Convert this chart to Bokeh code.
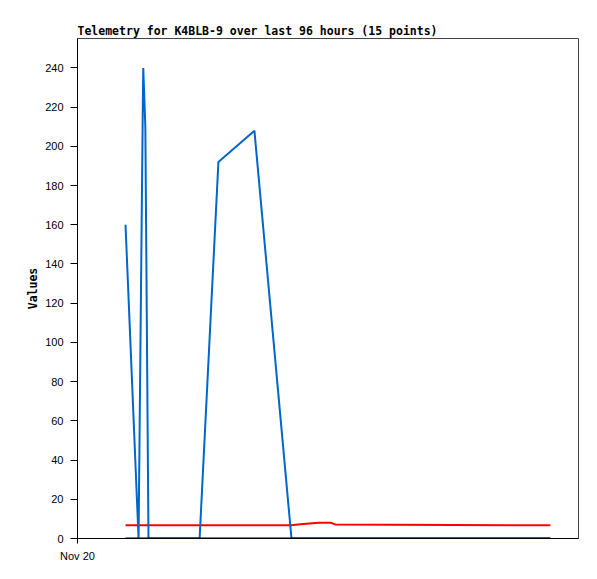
from bokeh.plotting import figure
from bokeh.models import Range1d, FixedTicker
from bokeh.embed import file_html
from bokeh.resources import INLINE

# hours since Nov 20 00:00 (axis spans 96 hours)
hours = [9.2, 11.7, 12.5, 12.6, 13.0, 13.6, 23.4, 27.0, 33.9, 41.0, 42.7, 46.2, 48.5, 49.4, 90.6]
series_blue = [160, 0, 217, 240, 210, 0, 0, 192, 208, 0, 0, 0, 0, 0, 0]
series_red = [6.7, 6.7, 6.7, 6.7, 6.7, 6.7, 6.7, 6.7, 6.7, 6.7, 7.3, 8.0, 8.0, 7.2, 6.7]
series_black = [0] * 15
y_ticks = list(range(0, 241, 20))
x_tick_labels = {0: "Nov 20"}

p = figure(width=589, height=571, output_backend="svg", toolbar_location=None,
           x_range=Range1d(0, 96), y_range=Range1d(0, 255),
           min_border_left=77, min_border_right=11, min_border_top=38, min_border_bottom=33)

p.title.text = "Telemetry for K4BLB-9 over last 96 hours (15 points)"
p.title.text_font = "DejaVu Sans Mono"
p.title.text_font_size = "11.5px"
p.title.text_font_style = "bold"
p.title.text_color = "black"
p.title.align = "left"
p.title.offset = 0
p.title.standoff = 1

p.outline_line_color = "#444444"
p.outline_line_width = 1
p.xgrid.visible = False
p.ygrid.visible = False
p.background_fill_color = "white"
p.border_fill_color = "white"

p.line(hours, series_red, line_color="#ff0000", line_width=2)
p.line(hours, series_blue, line_color="#0066cc", line_width=2)
p.line(hours, series_black, line_color="#000000", line_width=2)

yax = p.yaxis[0]
yax.ticker = FixedTicker(ticks=y_ticks)
yax.minor_tick_line_color = None
yax.major_tick_in = 0
yax.major_tick_out = 7
yax.major_tick_line_color = "black"
yax.major_label_standoff = 7
yax.major_label_text_font = "Liberation Sans"
yax.major_label_text_font_size = "11px"
yax.major_label_text_color = "black"
yax.axis_line_color = "black"
yax.axis_label = "Values"
yax.axis_label_text_font = "DejaVu Sans Mono"
yax.axis_label_text_font_style = "bold"
yax.axis_label_text_font_size = "11.5px"
yax.axis_label_text_color = "black"
yax.axis_label_standoff = 2

xax = p.xaxis[0]
xax.ticker = FixedTicker(ticks=[0])
xax.major_label_overrides = x_tick_labels
xax.minor_tick_line_color = None
xax.major_tick_in = 0
xax.major_tick_out = 5
xax.major_tick_line_color = "black"
xax.major_label_standoff = 6
xax.major_label_text_font = "Liberation Sans"
xax.major_label_text_font_size = "11px"
xax.major_label_text_color = "black"
xax.axis_line_color = "black"

open("out.html", "w").write(file_html(p, INLINE))
